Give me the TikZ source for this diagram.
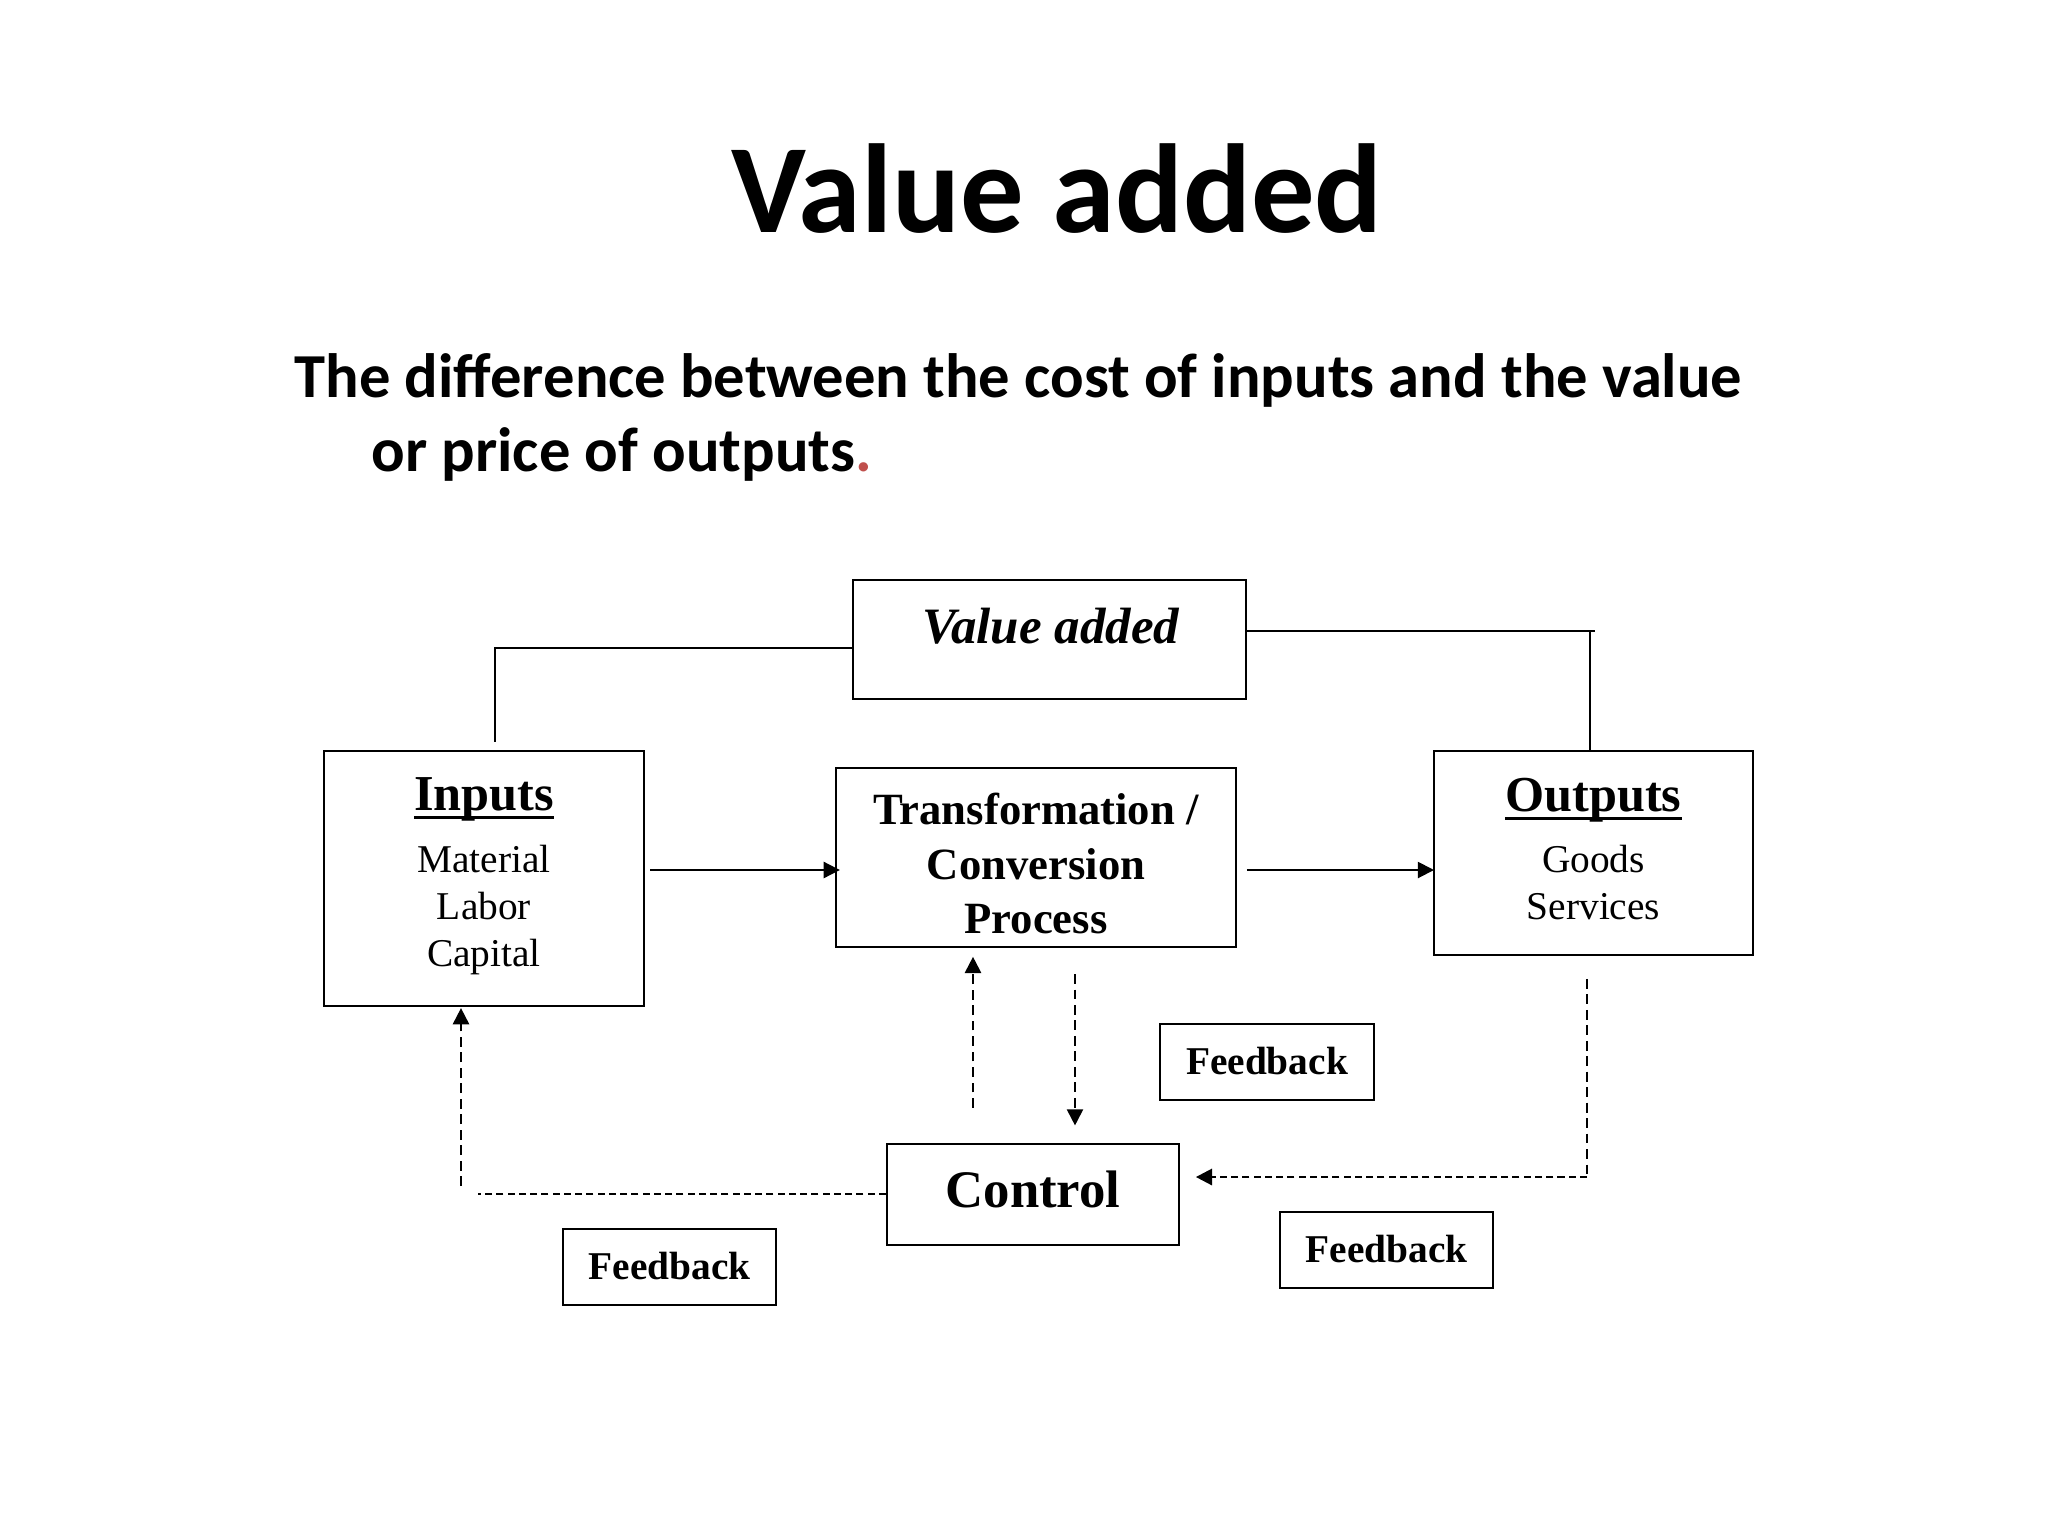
\documentclass[tikz,border=0pt]{standalone}
\usepackage{fontspec}
\setmainfont{Liberation Serif}
\newfontfamily\calibri{Carlito}
\usetikzlibrary{arrows.meta}
\definecolor{dotred}{RGB}{192,80,77}
\newcommand{\thickul}[1]{\setbox0\hbox{#1}\leavevmode\rlap{\raisebox{-2.6pt}{\rule{\wd0}{0.9pt}}}\box0}
\tikzset{
  x=0.01cm, y=-0.01cm,
  box/.style={draw, line width=0.55pt, rectangle, inner sep=0pt},
  line/.style={line width=0.55pt},
  tip/.style={-{Triangle[length=4.6pt,width=4.6pt]}},
  arr/.style={line width=0.55pt, tip},
  vdash/.style={line width=0.55pt, dash pattern=on 2.8pt off 1.6pt},
  hdash/.style={line width=0.75pt, dash pattern=on 2pt off 1.2pt},
  big/.style={font=\bfseries\fontsize{14.3}{16}\selectfont, anchor=base},
  small/.style={font=\fontsize{11.2}{13}\selectfont, anchor=base},
  mid/.style={font=\bfseries\fontsize{12.7}{15}\selectfont, anchor=base},
  fbtext/.style={font=\bfseries\fontsize{11.2}{13}\selectfont, anchor=base},
}
\begin{document}
\begin{tikzpicture}
\useasboundingbox (0,0) rectangle (2048,1536);
\fill[white] (0,0) rectangle (2048,1536);

% title and subtitle
\node[font=\calibri\bfseries\fontsize{36}{43}\selectfont, anchor=base] (title) at (1057,232) {Value added};
\node[font=\calibri\bfseries\fontsize{17.8}{22}\selectfont, anchor=base west, inner sep=0pt] (sub1) at (294,397) {The difference between the cost of inputs and the value};
\node[font=\calibri\bfseries\fontsize{17.8}{22}\selectfont, anchor=base west, inner sep=0pt] (sub2) at (371,471) {or price of outputs\textcolor{dotred}{.}};

% boxes
\node[box, minimum width=3.93cm, minimum height=1.19cm] (va) at (1049.5,639.5) {};
\node[box, minimum width=3.20cm, minimum height=2.55cm] (inputs) at (484,878.5) {};
\node[box, minimum width=4.00cm, minimum height=1.79cm] (trans) at (1036,857.5) {};
\node[box, minimum width=3.19cm, minimum height=2.04cm] (outputs) at (1593.5,853) {};
\node[box, minimum width=2.92cm, minimum height=1.01cm] (control) at (1033,1194.5) {};
\node[box, minimum width=2.14cm, minimum height=0.76cm] (fb1) at (1267,1062) {};
\node[box, minimum width=2.13cm, minimum height=0.76cm] (fb2) at (669.5,1267) {};
\node[box, minimum width=2.13cm, minimum height=0.76cm] (fb3) at (1386.5,1250) {};

% texts
\node[font=\bfseries\itshape\fontsize{14.5}{17}\selectfont, anchor=base] (vat) at (1051,643) {Value added};
\node[big] (int) at (484,810) {\thickul{Inputs}};
\node[small] (in1) at (484,872) {Material};
\node[small] (in2) at (484,919) {Labor};
\node[small] (in3) at (484,966) {Capital};
\node[mid] (tr1) at (1036,824) {Transformation /};
\node[mid] (tr2) at (1036,879) {Conversion};
\node[mid] (tr3) at (1036,933) {Process};
\node[big] (outt) at (1593.5,811) {\thickul{Outputs}};
\node[small] (out1) at (1593.5,872) {Goods};
\node[small] (out2) at (1593.5,919) {Services};
\node[font=\bfseries\fontsize{15}{18}\selectfont, anchor=base] (ctl) at (1033,1207) {Control};
\node[fbtext] (fb1t) at (1267,1074) {Feedback};
\node[fbtext] (fb2t) at (669.5,1279) {Feedback};
\node[fbtext] (fb3t) at (1386.5,1262) {Feedback};

% value added connectors
\coordinate (inTop) at (495,742);
\draw[line] (va.west |- 0,648) -| (inTop);
\coordinate (vaR) at (1595,631);
\draw[line] (va.east |- 0,631) -- (vaR);
\draw[line] (1590,631) -- (1590,0 |- outputs.north);

% main flow
\draw[arr, shorten <=1.5pt, shorten >=-1.4pt] (inputs.east |- 0,870) -- (trans.west |- 0,870);
\draw[arr, shorten <=2.8pt, shorten >=-0.3pt] (trans.east |- 0,870) -- (outputs.west |- 0,870);

% feedback loops
\draw[vdash, tip, shorten <=10pt, shorten >=2.5pt] (973,0 |- control.north) -- (973,0 |- trans.south);
\draw[vdash, tip, shorten <=7.4pt, shorten >=5pt] (1075,0 |- trans.south) -- (1075,0 |- control.north);
\coordinate (rc) at (1587,1177);
\draw[vdash, shorten <=6.5pt] (1587,0 |- outputs.south) -- (rc);
\draw[hdash, tip, shorten >=4.5pt] (rc) -- (control.east |- rc);
\coordinate (lcH) at (478,1194);
\coordinate (lcV) at (461,1186);
\draw[hdash] (control.west |- 0,1194) -- (lcH);
\draw[vdash, tip, shorten >=0.3pt] (lcV) -- (461,0 |- inputs.south);
\end{tikzpicture}
\end{document}
